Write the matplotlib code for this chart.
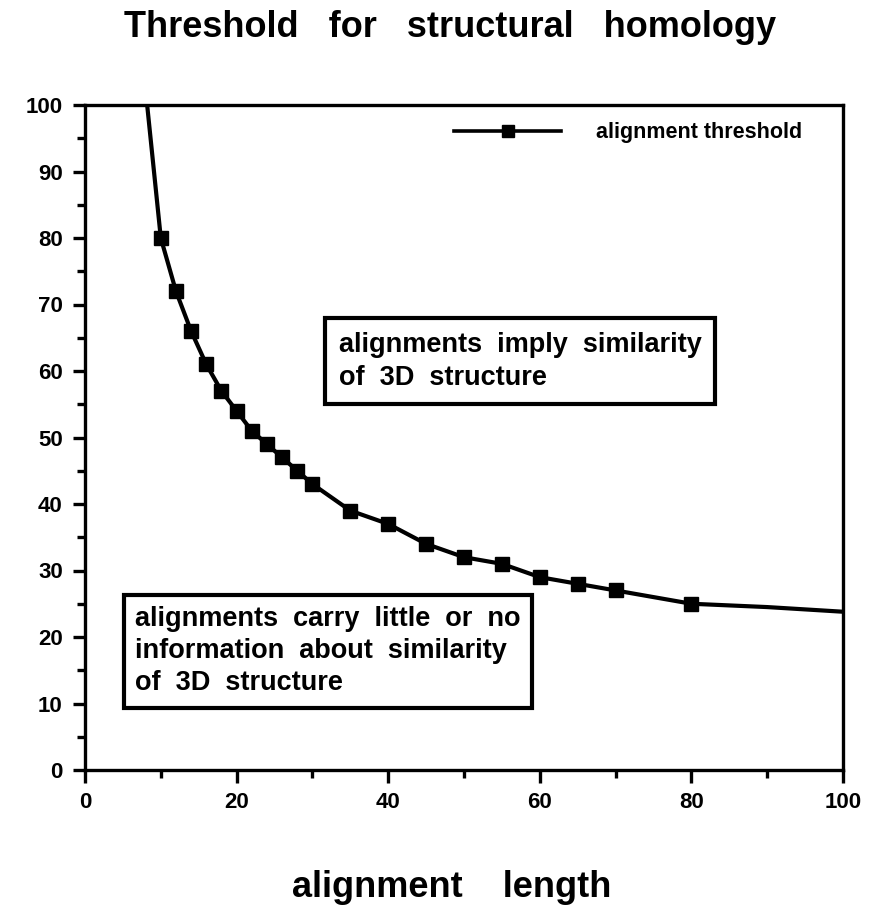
import matplotlib
matplotlib.use("Agg")
import matplotlib.pyplot as plt
from matplotlib.ticker import MultipleLocator

plt.rcParams['font.family'] = ['Liberation Sans', 'DejaVu Sans']
plt.rcParams['font.weight'] = 'bold'

# alignment threshold curve
curve_x = [8.2, 10, 12, 14, 16, 18, 20, 22, 24, 26, 28, 30, 35, 40, 45, 50, 55, 60, 65, 70, 80, 90, 100]
curve_y = [100, 80, 72, 66, 61, 57, 54, 51, 49, 47, 45, 43, 39, 37, 34, 32, 31, 29, 28, 27, 25, 24.5, 23.8]
# marker points
mark_x = [10, 12, 14, 16, 18, 20, 22, 24, 26, 28, 30, 35, 40, 45, 50, 55, 60, 65, 70, 80]
mark_y = [80, 72, 66, 61, 57, 54, 51, 49, 47, 45, 43, 39, 37, 34, 32, 31, 29, 28, 27, 25]

x_ticks = [0, 20, 40, 60, 80, 100]
y_ticks = [0, 10, 20, 30, 40, 50, 60, 70, 80, 90, 100]

fig = plt.figure(figsize=(8.74, 9.06), dpi=100)
ax = fig.add_axes([85/874, 1-770/906, (843-85)/874, (770-105)/906])

ax.plot(curve_x, curve_y, color='black', lw=3, zorder=3)
ax.plot(mark_x, mark_y, ls='none', marker='s', ms=10, mfc='black', mec='black', zorder=4)
# legend handle
ax.plot([], [], color='black', lw=2.6, marker='s', ms=8, mfc='black', mec='black',
        label='alignment threshold')
leg = ax.legend(loc='center right', frameon=False, handlelength=5.0, handletextpad=1.6,
                borderpad=0, borderaxespad=0,
                prop={'size': 15.5, 'weight': 'bold'}, bbox_to_anchor=(0.946, 0.958))

ax.set_xlim(0, 100)
ax.set_ylim(0, 100)
ax.set_xticks(x_ticks)
ax.set_yticks(y_ticks)
ax.xaxis.set_minor_locator(MultipleLocator(10))
ax.yaxis.set_minor_locator(MultipleLocator(5))
ax.tick_params(which='major', direction='out', length=9, width=2.4, labelsize=16, pad=7)
ax.tick_params(which='minor', direction='out', length=5.5, width=2.4)
for lab in ax.get_xticklabels() + ax.get_yticklabels():
    lab.set_fontweight('bold')
for s in ax.spines.values():
    s.set_linewidth(2.4)

ax.text(33.5, 65.9, 'alignments  imply  similarity\nof  3D  structure', fontsize=19.5,
        fontweight='bold', va='top', ha='left', linespacing=1.35,
        bbox=dict(boxstyle='square,pad=0.5', fc='white', ec='black', lw=3))
ax.text(6.6, 24.6, 'alignments  carry  little  or  no\ninformation  about  similarity\nof  3D  structure',
        fontsize=19.5, fontweight='bold', va='top', ha='left', linespacing=1.3,
        bbox=dict(boxstyle='square,pad=0.42', fc='white', ec='black', lw=3))

fig.text(450/874, 1-37/906, 'Threshold   for   structural   homology', ha='center', va='baseline',
         fontsize=26, fontweight='bold')
fig.text(452/874, 1-897/906, 'alignment    length', ha='center', va='baseline',
         fontsize=26, fontweight='bold')

fig.savefig('out.png', dpi=100)
